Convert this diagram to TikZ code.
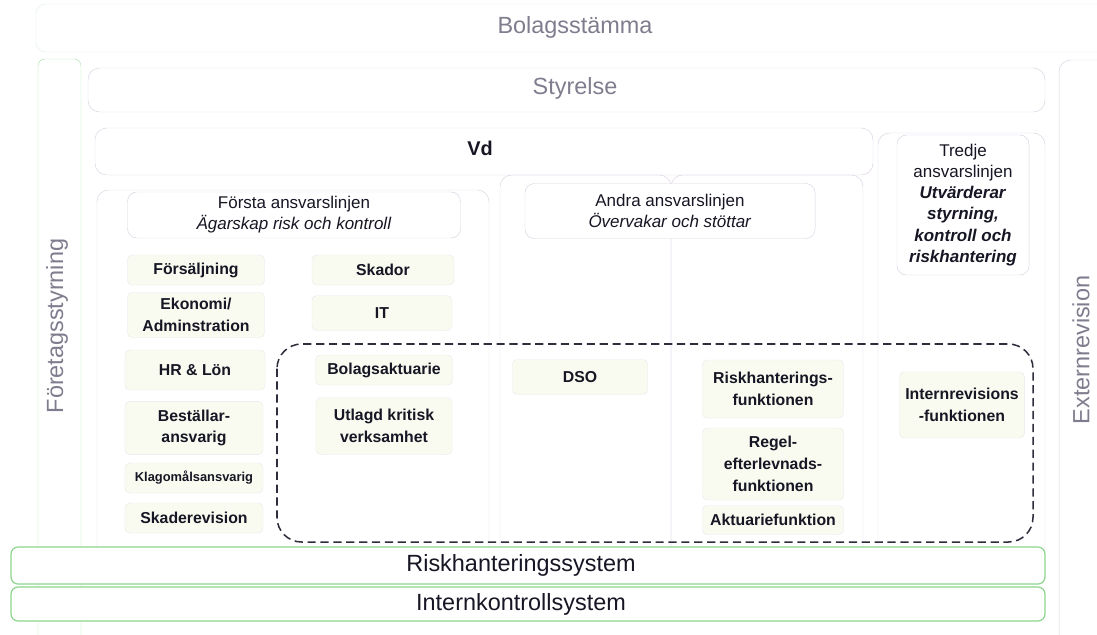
\documentclass[tikz,border=0pt]{standalone}
\usepackage{fontspec}
\setmainfont{Liberation Sans}
\definecolor{lilagra}{RGB}{128,124,142}
\definecolor{ramgron}{RGB}{140,212,140}
\definecolor{blekgron}{RGB}{225,240,225}
\definecolor{blekla}{RGB}{218,208,224}
\definecolor{rutfyll}{RGB}{249,251,240}
\definecolor{rutkant}{RGB}{238,230,236}
\definecolor{textmork}{RGB}{22,22,36}
\definecolor{streck}{RGB}{45,45,60}

\begin{document}
\begin{tikzpicture}[x=0.03cm, y=-0.03cm,
    organ/.style={text=lilagra, font=\fontsize{20}{24}\selectfont},
    rubrik/.style={text=textmork, align=center, font=\fontsize{14.5}{18}\selectfont},
    huvud/.style={rubrik, fill=white, draw=blekla, rounded corners=8pt},
    enhet/.style={fill=rutfyll, draw=rutkant, rounded corners=4pt, align=center,
                  inner sep=0pt, text=textmork,
                  font=\fontsize{13.5}{18.5}\selectfont\bfseries},
    blek/.style={draw=blekla, rounded corners=10pt},
    system/.style={draw=ramgron, line width=1pt, fill=white, rounded corners=6pt}]
  \useasboundingbox (0,0) rectangle (1097,634);

  % owners and board bands
  \draw[blekgron, rounded corners=8pt] (36,4) rectangle (1120,52);
  \node[organ] (stamma) at (575,27) {Bolagsstämma};
  \draw[blek] (88,68) rectangle (1045,112);
  \node[organ] (styrelse) at (575,88) {Styrelse};

  % side bands, text turned upwards
  \draw[ramgron!70, rounded corners=6pt] (38,59) rectangle (81,660);
  \node[organ, rotate=90] (foretag) at (57,326) {Företagsstyrning};
  \draw[blek] (1059,60) rectangle (1130,660);
  \node[organ, rotate=90] (extern) at (1081,350) {Externrevision};

  % vd band and the column frames
  \draw[blek] (95,128) rectangle (873,175);
  \node[text=textmork, font=\fontsize{17}{20}\selectfont\bfseries] (vd) at (480,148) {Vd};
  \draw[blek] (97,190) rectangle (489,560);
  \draw[blek] (500,175) rectangle (671,560);
  \draw[blek] (671,175) rectangle (863,560);
  \draw[blek] (878,133) rectangle (1045,560);

  % column headers
  \node[huvud, minimum width=9.99cm, minimum height=1.38cm] (forsta) at (294,215)
       {Första ansvarslinjen\\\textit{Ägarskap risk och kontroll}};
  \node[huvud, minimum width=8.7cm, minimum height=1.65cm] (andra) at (670,211)
       {Andra ansvarslinjen\\\textit{Övervakar och stöttar}};
  \node[huvud, minimum width=3.96cm, minimum height=4.2cm] (tredje) at (963,205)
       {Tredje\\ansvarslinjen\\\textbf{\textit{Utvärderar}}\\\textbf{\textit{styrning,}}\\
        \textbf{\textit{kontroll och}}\\\textbf{\textit{riskhantering}}};

  % key functions, dashed frame
  \draw[streck, line width=1.3pt, dash pattern=on 7pt off 4pt, rounded corners=21pt]
       (277,344) rectangle (1033,542);

  % first line units
  \node[enhet, minimum width=4.11cm, minimum height=0.9cm] (fors) at (196,270) {Försäljning};
  \node[enhet, minimum width=4.11cm, minimum height=1.35cm] (ekon) at (196,315) {Ekonomi/\\Adminstration};
  \node[enhet, minimum width=4.2cm, minimum height=1.2cm] (hrlon) at (195,370) {HR \& Lön};
  \node[enhet, minimum width=4.14cm, minimum height=1.6cm] (best) at (194,428) {Beställar-\\ansvarig};
  \node[enhet, minimum width=4.14cm, minimum height=0.9cm, font=\fontsize{11}{13}\selectfont\bfseries]
       (klago) at (194,478) {Klagomålsansvarig};
  \node[enhet, minimum width=4.14cm, minimum height=0.9cm] (skrev) at (194,518) {Skaderevision};
  \node[enhet, minimum width=4.26cm, minimum height=0.9cm] (skador) at (383,270) {Skador};
  \node[enhet, minimum width=4.2cm, minimum height=1.05cm] (it) at (382,313) {IT};
  \node[enhet, minimum width=4.11cm, minimum height=0.9cm] (bolakt) at (384,370) {Bolagsaktuarie};
  \node[enhet, minimum width=4.08cm, minimum height=1.71cm] (utlagd) at (384,426) {Utlagd kritisk\\verksamhet};

  % second and third line units
  \node[enhet, minimum width=4.05cm, minimum height=1.05cm] (dso) at (580,377) {DSO};
  \node[enhet, minimum width=4.23cm, minimum height=1.74cm] (riskf) at (773,389) {Riskhanterings-\\funktionen};
  \node[enhet, minimum width=4.23cm, minimum height=2.16cm] (regel) at (773,464) {Regel-\\efterlevnads-\\funktionen};
  \node[enhet, minimum width=4.23cm, minimum height=0.87cm] (aktf) at (773,520) {Aktuariefunktion};
  \node[enhet, minimum width=3.75cm, minimum height=1.98cm] (intrev) at (962,405) {Internrevisions\\-funktionen};

  % system bars across the bottom
  \draw[system] (11,547) rectangle (1045,584);
  \node[text=textmork, font=\fontsize{20}{24}\selectfont] (rhs) at (521,565) {Riskhanteringssystem};
  \draw[system] (11,587) rectangle (1045,621);
  \node[text=textmork, font=\fontsize{20}{24}\selectfont] (iks) at (521,604) {Internkontrollsystem};
\end{tikzpicture}
\end{document}
